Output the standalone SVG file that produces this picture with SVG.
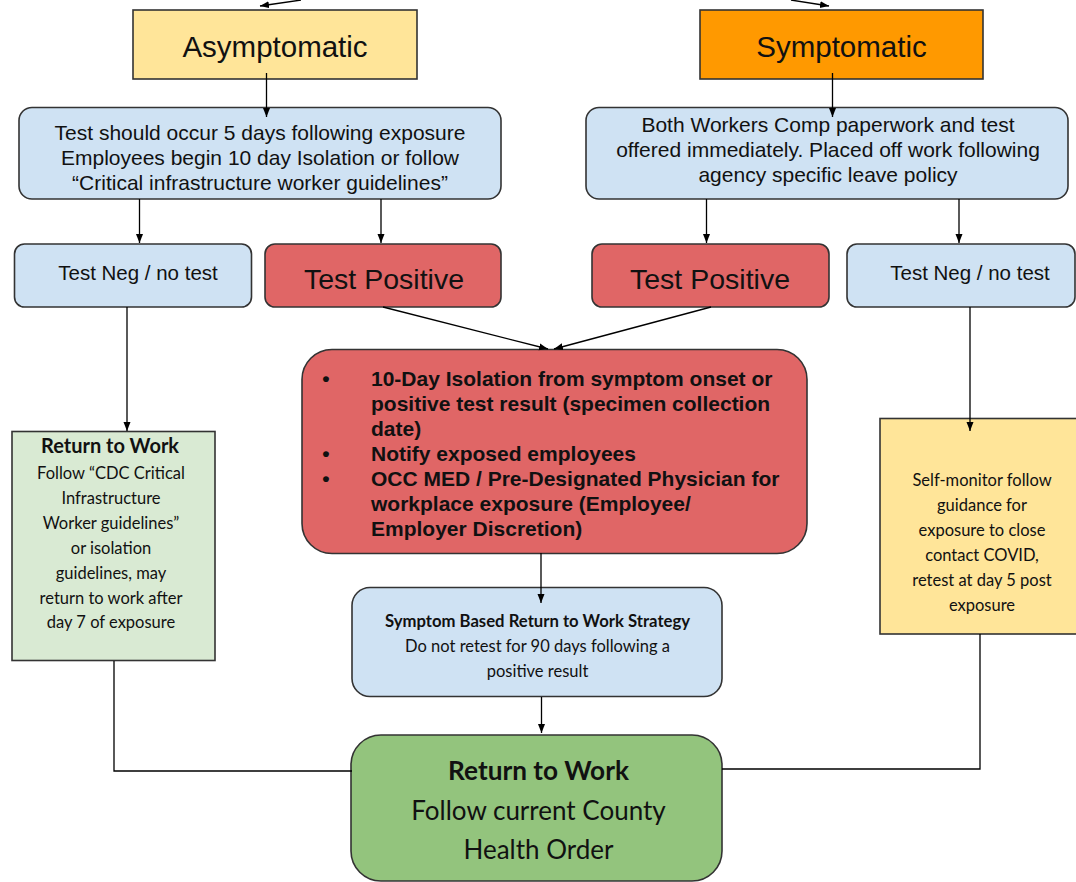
<svg xmlns="http://www.w3.org/2000/svg" width="1076" height="882" viewBox="0 0 1076 882">
<defs>
<marker id="ah" markerWidth="10" markerHeight="8" refX="9" refY="3.5" orient="auto" markerUnits="userSpaceOnUse">
<path d="M0,0 L9,3.5 L0,7 z" fill="#000"/>
</marker>
<style>
.box{stroke:#333;stroke-width:1.6}
.ar{font-family:"Liberation Sans",Arial,sans-serif;fill:#111}
.ca{font-family:Lato,"Open Sans",sans-serif;fill:#111}
.c{text-anchor:middle}
.b{font-weight:bold}
.ln{fill:none;stroke:#000;stroke-width:1.3}
.la{fill:none;stroke:#000;stroke-width:1.3;marker-end:url(#ah)}
</style>
</defs>
<rect width="1076" height="882" fill="#fff"/>
<g id="asymptomatic">
<rect class="box" x="133" y="10" width="284" height="69" fill="#ffe599"/>
<text class="ar c" x="275" y="57" font-size="29.5">Asymptomatic</text>
</g>
<g id="symptomatic">
<rect class="box" x="700" y="10" width="283" height="69" fill="#ff9900"/>
<text class="ar c" x="841.5" y="57" font-size="29.5">Symptomatic</text>
</g>
<g id="asym-test">
<rect class="box" x="19" y="107.5" width="482" height="91.5" rx="13" fill="#cfe2f3"/>
<text class="ar c" x="260" y="139.5" font-size="21">Test should occur 5 days following exposure</text>
<text class="ar c" x="260" y="164.5" font-size="21">Employees begin 10 day Isolation or follow</text>
<text class="ar c" x="260" y="189.5" font-size="21">“Critical infrastructure worker guidelines”</text>
</g>
<g id="sym-test">
<rect class="box" x="586" y="107.5" width="482" height="91.5" rx="13" fill="#cfe2f3"/>
<text class="ar c" x="828" y="131.5" font-size="21">Both Workers Comp paperwork and test</text>
<text class="ar c" x="828" y="156.5" font-size="21">offered immediately. Placed off work following</text>
<text class="ar c" x="828" y="181.5" font-size="21">agency specific leave policy</text>
</g>
<g id="neg-left">
<rect class="box" x="14.5" y="244" width="237" height="63" rx="10" fill="#cfe2f3"/>
<text class="ar c" x="138" y="279.5" font-size="20.5">Test Neg / no test</text>
</g>
<g id="pos-left">
<rect class="box" x="265" y="244" width="236" height="63" rx="10" fill="#e06666"/>
<text class="ar c" x="384" y="289" font-size="28.5">Test Positive</text>
</g>
<g id="pos-right">
<rect class="box" x="592" y="244" width="237" height="63" rx="10" fill="#e06666"/>
<text class="ar c" x="710" y="289" font-size="28.5">Test Positive</text>
</g>
<g id="neg-right">
<rect class="box" x="847" y="244" width="228" height="63" rx="10" fill="#cfe2f3"/>
<text class="ar c" x="970" y="279.5" font-size="20.5">Test Neg / no test</text>
</g>
<g id="isolation">
<rect class="box" x="302" y="349.5" width="505" height="204" rx="30" fill="#e06666"/>
<g class="ar b" font-size="21">
<text x="326" y="386" class="c">•</text>
<text x="371" y="386">10-Day Isolation from symptom onset or</text>
<text x="371" y="411">positive test result (specimen collection</text>
<text x="371" y="436">date)</text>
<text x="326" y="461" class="c">•</text>
<text x="371" y="461">Notify exposed employees</text>
<text x="326" y="486" class="c">•</text>
<text x="371" y="486">OCC MED / Pre-Designated Physician for</text>
<text x="371" y="511">workplace exposure (Employee/</text>
<text x="371" y="536">Employer Discretion)</text>
</g>
</g>
<g id="rtw-left">
<rect class="box" x="12" y="431.5" width="203" height="229" fill="#d9ead3"/>
<text class="ca c b" x="110" y="453" font-size="20">Return to Work</text>
<g class="ca c" font-size="16.5">
<text x="111" y="479">Follow “CDC Critical</text>
<text x="111" y="504">Infrastructure</text>
<text x="111" y="529">Worker guidelines”</text>
<text x="111" y="553.5">or isolation</text>
<text x="111" y="578.5">guidelines, may</text>
<text x="111" y="603.5">return to work after</text>
<text x="111" y="628">day 7 of exposure</text>
</g>
</g>
<g id="self-monitor">
<rect class="box" x="880" y="418.5" width="210" height="215.5" fill="#ffe599"/>
<g class="ca c" font-size="16.5">
<text x="982" y="486">Self-monitor follow</text>
<text x="982" y="511">guidance for</text>
<text x="982" y="536">exposure to close</text>
<text x="982" y="561">contact COVID,</text>
<text x="982" y="586">retest at day 5 post</text>
<text x="982" y="611">exposure</text>
</g>
</g>
<g id="symptom-based">
<rect class="box" x="352" y="587.5" width="370" height="109" rx="18" fill="#cfe2f3"/>
<text class="ca c b" x="537.5" y="627" font-size="16.7">Symptom Based Return to Work Strategy</text>
<text class="ca c" x="537.5" y="652" font-size="16.5">Do not retest for 90 days following a</text>
<text class="ca c" x="537.5" y="677" font-size="16.5">positive result</text>
</g>
<g id="rtw-final">
<rect class="box" x="351" y="735" width="371" height="146" rx="30" fill="#93c47d"/>
<text class="ca c b" x="538.5" y="780" font-size="26.2">Return to Work</text>
<text class="ca c" x="538.5" y="820" font-size="26">Follow current County</text>
<text class="ca c" x="538.5" y="859" font-size="26">Health Order</text>
</g>
<g id="connectors">
<path class="la" d="M301,0 L260,6"/>
<path class="la" d="M791,0 L829,6"/>
<path class="la" d="M266.5,73 L266.5,117"/>
<path class="la" d="M832.5,73 L832.5,117"/>
<path class="la" d="M139.5,199 L139.5,243"/>
<path class="la" d="M381,199 L381,243"/>
<path class="la" d="M706.5,199 L706.5,243"/>
<path class="la" d="M959,199 L959,243"/>
<path class="la" d="M383,307 L548,349"/>
<path class="la" d="M711,307 L554,349"/>
<path class="la" d="M127,307 L127,431"/>
<path class="la" d="M970,307 L970,431"/>
<path class="la" d="M541,553 L541,603"/>
<path class="la" d="M541.5,697 L541.5,733"/>
<path class="ln" d="M114,661 L114,771 L352,771"/>
<path class="ln" d="M980,634 L980,769 L722,769"/>
</g>
</svg>
